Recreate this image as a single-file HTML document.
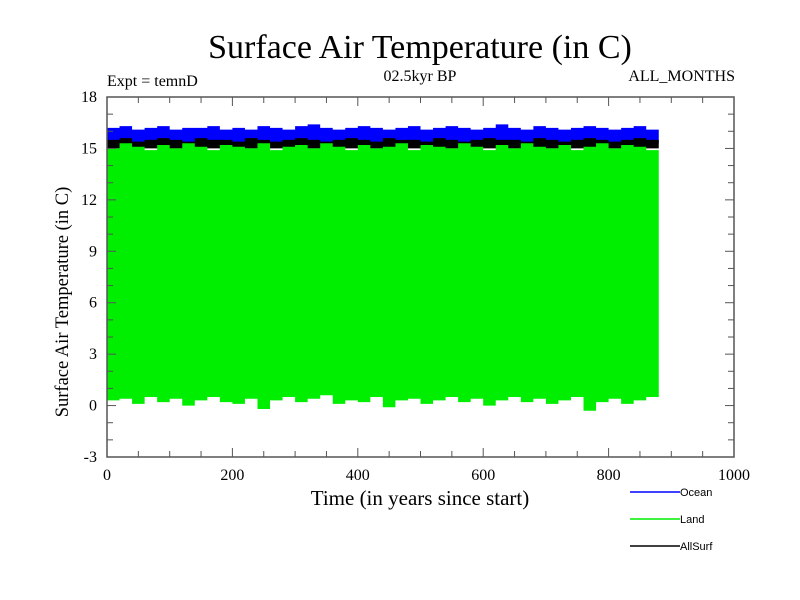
<!DOCTYPE html>
<html><head><meta charset="utf-8"><style>
body{margin:0;background:#fff}
svg{display:block}
.s{font-family:"Liberation Serif",serif;fill:#000}
.a{font-family:"Liberation Sans",sans-serif;fill:#000;font-size:11px}
</style></head><body>
<svg id="c" width="800" height="600" xmlns="http://www.w3.org/2000/svg">
<text class="s" x="420" y="58" font-size="34" text-anchor="middle">Surface Air Temperature (in C)</text>
<text class="s" x="107" y="86" font-size="16">Expt = temnD</text>
<text class="s" x="420" y="81" font-size="16" text-anchor="middle">02.5kyr BP</text>
<text class="s" x="735" y="81" font-size="16" text-anchor="end">ALL_MONTHS</text>
<text class="s" x="420" y="505" font-size="21" text-anchor="middle">Time (in years since start)</text>
<text class="s" transform="translate(68,302) rotate(-90)" font-size="18.5" text-anchor="middle">Surface Air Temperature (in C)</text>
<g id="marks"></g>
<g id="axes"></g>
<g id="legend"></g>
</svg>
<script>
const years=[0,20,40,60,80,100,120,140,160,180,200,220,240,260,280,300,320,340,360,380,400,420,440,460,480,500,520,540,560,580,600,620,640,660,680,700,720,740,760,780,800,820,840,860,880];
const oceanHi=[16.2,16.3,16.1,16.2,16.3,16.1,16.2,16.2,16.3,16.1,16.2,16.1,16.3,16.2,16.1,16.3,16.4,16.2,16.1,16.2,16.3,16.2,16.1,16.2,16.3,16.1,16.2,16.3,16.2,16.1,16.2,16.4,16.2,16.1,16.3,16.2,16.1,16.2,16.3,16.2,16.1,16.2,16.3,16.1,16.2];
const allHi=[15.5,15.6,15.4,15.5,15.6,15.5,15.4,15.6,15.5,15.5,15.4,15.6,15.5,15.4,15.5,15.6,15.5,15.4,15.5,15.6,15.5,15.4,15.6,15.5,15.5,15.4,15.6,15.5,15.4,15.5,15.6,15.5,15.5,15.4,15.6,15.5,15.4,15.5,15.6,15.5,15.4,15.5,15.6,15.5,15.4];
const landHi=[15.0,15.3,15.1,14.9,15.2,15.0,15.3,15.1,14.9,15.2,15.1,15.0,15.3,14.9,15.1,15.2,15.0,15.3,15.1,14.9,15.2,15.0,15.1,15.3,14.9,15.2,15.1,15.0,15.3,15.1,14.9,15.2,15.0,15.3,15.1,15.0,15.2,14.9,15.1,15.3,15.0,15.2,15.1,14.9,14.7];
const landLo=[0.3,0.4,0.1,0.5,0.2,0.4,0.0,0.3,0.5,0.2,0.1,0.4,-0.2,0.3,0.5,0.2,0.4,0.6,0.1,0.3,0.2,0.5,-0.1,0.3,0.4,0.1,0.3,0.5,0.2,0.4,0.0,0.3,0.5,0.2,0.4,0.1,0.3,0.5,-0.3,0.2,0.4,0.1,0.3,0.5,0.2];
const xTicks=[0,200,400,600,800,1000];
const yTicks=[-3,0,3,6,9,12,15,18];
const X0=107,X1=734,Y0=457,Y1=97;
const sx=v=>X0+(v-0)/(1000)*(X1-X0);
const sy=v=>Y0-(v+3)/21*(Y0-Y1);
const NS="http://www.w3.org/2000/svg";
function mk(t,a,p){const e=document.createElementNS(NS,t);for(const k in a)e.setAttribute(k,a[k]);p.appendChild(e);return e;}
const marks=document.getElementById('marks');
function band(hi,lo,color,name){
  let pts=[];
  for(let i=0;i<years.length;i++){const x=sx(years[i]),x2=sx(i<years.length-1?years[i+1]:years[i]);pts.push(x+','+sy(hi[i]));pts.push(x2+','+sy(hi[i]));}
  for(let i=years.length-1;i>=0;i--){const x=sx(years[i]),x2=sx(i<years.length-1?years[i+1]:years[i]);pts.push(x2+','+sy(typeof lo==='number'?lo:lo[i]));pts.push(x+','+sy(typeof lo==='number'?lo:lo[i]));}
  const p=mk('polygon',{points:pts.join(' '),fill:color},marks);
  
  
}
band(oceanHi,15.3,'#0000ff','ocean-series');
band(allHi,15.0,'#000000','allsurf-series');
band(landHi,landLo,'#00ee00','land-series');
const ax=document.getElementById('axes');
const fr=mk('rect',{x:X0,y:Y1,width:X1-X0,height:Y0-Y1,fill:'none',stroke:'#555','stroke-width':1.5},ax);


for(let v=0;v<=1000;v+=50){const x=sx(v),L=v%200===0?9:6;mk('line',{x1:x,x2:x,y1:Y0,y2:Y0-L,stroke:'#555'},ax);mk('line',{x1:x,x2:x,y1:Y1,y2:Y1+L,stroke:'#555'},ax);}
for(let v=-3;v<=18;v+=1){const y=sy(v),L=v%3===0?9:6;mk('line',{x1:X0,x2:X0+L,y1:y,y2:y,stroke:'#555'},ax);mk('line',{x1:X1,x2:X1-L,y1:y,y2:y,stroke:'#555'},ax);}
xTicks.forEach(v=>{const t=mk('text',{x:sx(v),y:Y0+23,'text-anchor':'middle','font-size':16,class:'s'},ax);t.textContent=v;

});
yTicks.forEach(v=>{const t=mk('text',{x:X0-10,y:sy(v)+5,'text-anchor':'end','font-size':16,class:'s'},ax);t.textContent=v;

});
const lg=document.getElementById('legend');
[['Ocean','#0000ff',492],['Land','#00ee00',519],['AllSurf','#000',546]].forEach(([n,c,y])=>{
const g=mk('g',{},lg);


mk('line',{x1:630,x2:680,y1:y,y2:y,stroke:c,'stroke-width':1.5},g);
const t=mk('text',{x:680,y:y+4,class:'a'},g);t.textContent=n;});
</script>
</body></html>
